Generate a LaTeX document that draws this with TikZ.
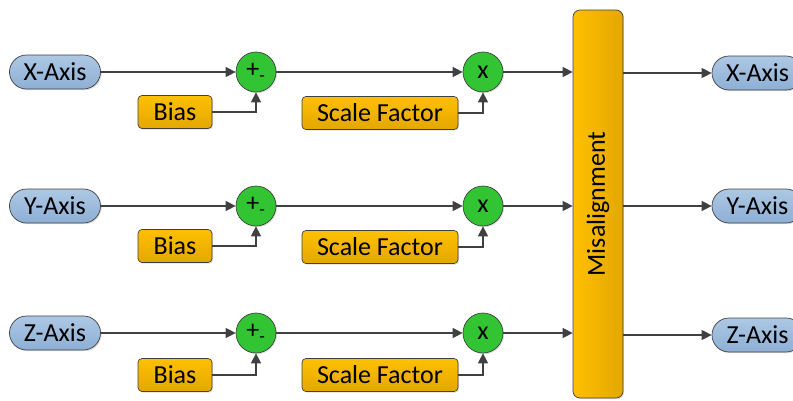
\documentclass[tikz,border=0pt]{standalone}
\usepackage{fontspec}
\setmainfont{Carlito}
\usetikzlibrary{arrows.meta,shadows,shapes.misc}
\definecolor{edgec}{HTML}{404040}
\definecolor{bluetop}{HTML}{ADC8E4}
\definecolor{bluebot}{HTML}{8DAFD5}
\definecolor{orA}{HTML}{FFC000}
\definecolor{orB}{HTML}{E3A700}
\definecolor{grn}{HTML}{33C433}
\begin{document}
\begin{tikzpicture}[x=1pt,y=-1pt,
  font=\fontsize{26}{30}\selectfont,
  shad/.style={drop shadow={opacity=0.25,shadow xshift=1.2pt,shadow yshift=-1.2pt}},
  axisnode/.style={rounded rectangle, draw=edgec, line width=0.7pt, shad,
    top color=bluetop, bottom color=bluebot,
    minimum width=91pt, minimum height=34pt, inner sep=0pt},
  biasbox/.style={draw=edgec, line width=0.7pt, rounded corners=4pt, shad,
    top color=orA, bottom color=orB,
    minimum height=33pt, inner sep=0pt},
  opnode/.style={circle, draw=edgec, line width=0.7pt, fill=grn, shad,
    minimum size=40pt, inner sep=0pt},
  misbox/.style={draw=edgec, line width=0.7pt, rounded corners=7pt, shad,
    left color=orA, right color=orB,
    minimum width=50pt, minimum height=388pt, inner sep=0pt},
  arr/.style={draw=edgec, line width=1.2pt, -{Triangle[length=10pt,width=10pt]}}
]
\useasboundingbox (0,0) rectangle (793,400);

% Misalignment block
\node[misbox] (m) at (598,204) {\rotatebox{90}{Misalignment}};

% Row X
\node[axisnode] (a1) at (55,72) {X-Axis};
\node[opnode] (p1) at (256,72) {+\textsubscript{-}};
\node[biasbox, minimum width=74pt] (b1) at (175,112) {Bias};
\node[opnode] (t1) at (483,72) {x};
\node[biasbox, minimum width=156pt] (s1) at (380,113) {Scale Factor};
\node[axisnode] (r1) at (757.5,73) {X-Axis};

% Row Y
\node[axisnode] (a2) at (55,206) {Y-Axis};
\node[opnode] (p2) at (256,206) {+\textsubscript{-}};
\node[biasbox, minimum width=74pt] (b2) at (175,246) {Bias};
\node[opnode] (t2) at (483,206) {x};
\node[biasbox, minimum width=156pt] (s2) at (380,247) {Scale Factor};
\node[axisnode] (r2) at (757.5,206) {Y-Axis};

% Row Z
\node[axisnode] (a3) at (55,333) {Z-Axis};
\node[opnode] (p3) at (256,333) {+\textsubscript{-}};
\node[biasbox, minimum width=74pt] (b3) at (175,375) {Bias};
\node[opnode] (t3) at (483,333) {x};
\node[biasbox, minimum width=156pt] (s3) at (380,375) {Scale Factor};
\node[axisnode] (r3) at (757.5,335) {Z-Axis};

\foreach \i in {1,2,3}{
  \draw[arr] (a\i.east) -- (p\i.west);
  \draw[arr] (b\i.east) -| (p\i.south);
  \draw[arr] (p\i.east) -- (t\i.west);
  \draw[arr] (s\i.east) -| (t\i.south);
  \draw[arr] (t\i.east) -- (t\i.east -| m.west);
  \draw[arr] (r\i.west -| m.east) -- (r\i.west);
}
\end{tikzpicture}
\end{document}
